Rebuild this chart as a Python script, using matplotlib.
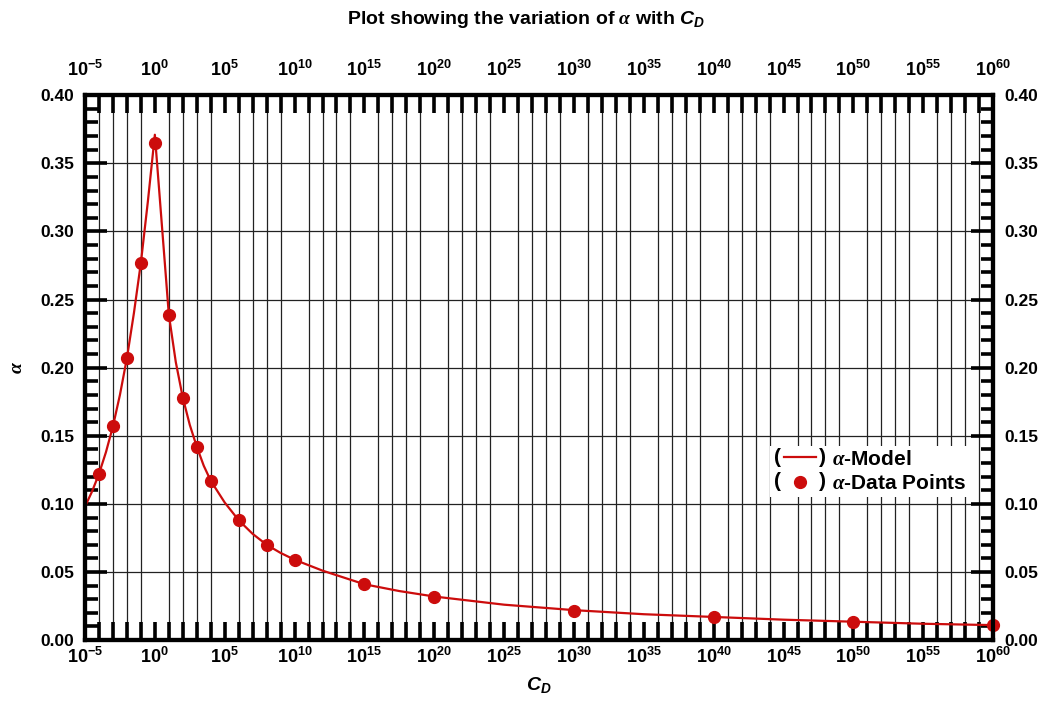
import numpy as np
import matplotlib
matplotlib.use("Agg")
import matplotlib.pyplot as plt
from matplotlib.lines import Line2D
from matplotlib.text import Text
from matplotlib.legend_handler import HandlerBase
from matplotlib.ticker import FixedLocator, NullFormatter

plt.rcParams['font.family'] = ['Liberation Sans', 'DejaVu Sans']
plt.rcParams['font.weight'] = 'bold'
plt.rcParams['mathtext.fontset'] = 'custom'
plt.rcParams['mathtext.rm'] = 'Liberation Sans:bold'
plt.rcParams['mathtext.it'] = 'Liberation Serif:italic'
plt.rcParams['mathtext.bf'] = 'Liberation Sans:bold:italic'

# data points (decade exponent of C_D, alpha)
point_exp = [-4, -3, -2, -1, 0, 1, 2, 3, 4, 6, 8, 10, 15, 20, 30, 40, 50, 60]
point_alpha = [0.122, 0.157, 0.207, 0.277, 0.365, 0.239, 0.178, 0.142, 0.117,
               0.088, 0.070, 0.059, 0.041, 0.032, 0.021, 0.017, 0.013, 0.011]

# model curve
model_exp = [-5, -4.5, -4, -3.5, -3, -2.5, -2, -1.5, -1, -0.5, 0, 0.5, 1, 1.5, 2,
             2.5, 3, 3.5, 4, 5, 6, 7, 8, 9, 10, 12, 15, 17.5, 20, 25, 30, 35,
             40, 45, 50, 55, 60]
model_alpha = [0.098, 0.109, 0.122, 0.138, 0.157, 0.180, 0.207, 0.240, 0.277,
               0.322, 0.371, 0.305, 0.239, 0.204, 0.178, 0.158, 0.142, 0.128,
               0.117, 0.101, 0.088, 0.078, 0.070, 0.064, 0.059, 0.051, 0.041,
               0.036, 0.032, 0.026, 0.022, 0.019, 0.017, 0.015, 0.0135, 0.012,
               0.011]

major_exp = np.arange(-5, 61, 5)
minor_exp = np.arange(-5, 61, 1)

red = '#cc0c0c'


class ParenHandler(HandlerBase):
    """legend handle drawn as ( glyph )"""
    def create_artists(self, legend, orig_handle, xdescent, ydescent,
                       width, height, fontsize, trans):
        y = height / 2 - ydescent
        x0 = -xdescent
        x1 = width - xdescent
        arts = []
        lp = Text(x0, y, '(', ha='left', va='center', fontsize=fontsize,
                  fontweight='bold', transform=trans)
        rp = Text(x1, y, ')', ha='right', va='center', fontsize=fontsize,
                  fontweight='bold', transform=trans)
        pad = 0.2 * width
        if orig_handle.get_linestyle() not in ('None', 'none', ''):
            ln = Line2D([x0 + pad, x1 - pad], [y, y], color=orig_handle.get_color(),
                        lw=orig_handle.get_linewidth(), transform=trans)
            arts.append(ln)
        if orig_handle.get_marker() not in ('None', 'none', '', None):
            mk = Line2D([(x0 + x1) / 2], [y], ls='none', marker=orig_handle.get_marker(),
                        ms=orig_handle.get_markersize(), color=orig_handle.get_color(),
                        transform=trans)
            arts.append(mk)
        return arts + [lp, rp]


def fmt_pow(v, p):
    return r'$\mathrm{10^{%d}}$' % round(np.log10(v))


fig = plt.figure(figsize=(10.52, 7.16), dpi=100)
ax = fig.add_axes([0.0808, 0.106, 0.8632, 0.761])

line, = ax.plot(10.0 ** np.array(model_exp), model_alpha, color=red, lw=1.6,
                label=r'$\alpha$-Model', zorder=3)
pts, = ax.plot(10.0 ** np.array(point_exp), point_alpha, ls='none', marker='o',
               ms=8.5, color=red, label=r'$\alpha$-Data Points', zorder=4, clip_on=False)

ax.set_xscale('log')
ax.set_xlim(1e-5, 1e60)
ax.set_ylim(0, 0.40)

ax.xaxis.set_major_locator(FixedLocator(10.0 ** major_exp))
ax.xaxis.set_minor_locator(FixedLocator(10.0 ** minor_exp))
ax.xaxis.set_major_formatter(plt.FuncFormatter(fmt_pow))
ax.xaxis.set_minor_formatter(NullFormatter())
ax.set_yticks(np.arange(0, 0.401, 0.05))
ax.set_yticks(np.arange(0, 0.401, 0.01), minor=True)
ax.yaxis.set_major_formatter(plt.FuncFormatter(lambda v, p: '%.2f' % v))

ax.tick_params(axis='both', which='both', direction='in', right=True,
               labelright=True, labelsize=12.5, width=2.6)
ax.tick_params(axis='x', which='both', length=13, pad=5, labelsize=13)
ax.tick_params(axis='y', which='major', length=16, pad=8)
ax.tick_params(axis='y', which='minor', length=9)

# top axis, same ticks
axt = ax.twiny()
axt.set_xscale('log')
axt.set_xlim(ax.get_xlim())
axt.xaxis.set_major_locator(FixedLocator(10.0 ** major_exp))
axt.xaxis.set_minor_locator(FixedLocator(10.0 ** minor_exp))
axt.xaxis.set_major_formatter(plt.FuncFormatter(fmt_pow))
axt.xaxis.set_minor_formatter(NullFormatter())
axt.tick_params(axis='x', which='both', direction='in', length=13, width=2.6,
                labelsize=13, pad=11)

ax.grid(True, axis='x', which='minor', color='#222222', lw=0.9)
ax.grid(True, axis='y', which='major', color='#222222', lw=0.9)
ax.set_axisbelow(True)
for a in (ax, axt):
    for sp in a.spines.values():
        sp.set_linewidth(3)

ax.set_xlabel(r'$\mathbf{C_D}$', fontsize=14, labelpad=6)
ax.set_ylabel(r'$\alpha$', fontsize=14, labelpad=10)
fig.suptitle(r'Plot showing the variation of $\alpha$ with $\mathbf{C_D}$',
             y=0.988, fontsize=14, fontweight='bold')

leg = axt.legend(handles=[line, pts], handler_map={Line2D: ParenHandler()},
                 loc='upper left', bbox_to_anchor=(0.754, 0.357), frameon=True,
                 fancybox=False, edgecolor='none', framealpha=1, fontsize=15,
                 handlelength=2.5, handletextpad=0.3, borderpad=0.2,
                 labelspacing=0.25, borderaxespad=0)

fig.savefig('out.png', dpi=100)
